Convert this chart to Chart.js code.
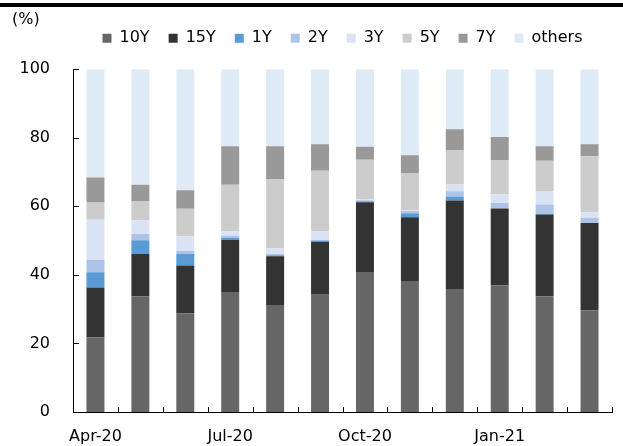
<!DOCTYPE html>
<html>
<head>
<meta charset="utf-8">
<script src="https://cdn.jsdelivr.net/npm/chart.js@4"></script>
<style>
  html, body { margin: 0; padding: 0; background: #fff; }
  #wrap { position: relative; width: 623px; height: 446px; }
  #topRule { position: absolute; left: 0; top: 3px; width: 623px; height: 4px; background: #000; }
  #chart { position: absolute; left: 0; top: 0; }
</style>
</head>
<body>
<div id="wrap">
  <canvas id="chart" width="623" height="446"></canvas>
  <div id="topRule"></div>
</div>
<script>
// monthly share of issuance by tenor, in %
const months = ['Apr-20', 'May-20', 'Jun-20', 'Jul-20', 'Aug-20', 'Sep-20',
                'Oct-20', 'Nov-20', 'Dec-20', 'Jan-21', 'Feb-21', 'Mar-21'];
const y10 = [21.8, 33.8, 28.8, 34.8, 31.2, 34.4, 40.6, 38.2, 35.9, 36.9, 33.8, 29.7];
const y15 = [14.5, 12.3, 13.9, 15.4, 14.2, 15.3, 20.6, 18.6, 25.8, 22.5, 23.8, 25.4];
const y1 = [4.5, 4.0, 3.5, 0.6, 0.3, 0.3, 0.3, 1.2, 1.2, 0, 0.2, 0];
const y2 = [3.6, 1.9, 0.8, 0.6, 0.4, 0.2, 0.3, 0.6, 1.5, 1.6, 2.7, 1.5];
const y3 = [11.7, 3.9, 4.3, 1.3, 1.7, 2.5, 0.2, 0.2, 2.0, 2.5, 4.0, 1.7];
const y5 = [5.0, 5.5, 8.0, 13.6, 20.2, 17.7, 11.6, 10.9, 9.9, 9.9, 8.8, 16.3];
const y7 = [7.3, 4.9, 5.4, 11.2, 9.5, 7.7, 3.8, 5.2, 6.2, 6.8, 4.2, 3.5];
const others = [31.6, 33.7, 35.3, 22.5, 22.5, 21.9, 22.6, 25.1, 17.5, 19.8, 22.5, 21.9];

Chart.defaults.font.family = "'DejaVu Sans', sans-serif";
Chart.defaults.font.size = 16;
Chart.defaults.color = '#000';

// small tick marks drawn on the inner side of both axes
const innerTicks = {
  id: 'innerTicks',
  afterDatasetsDraw(chart) {
    const { ctx, chartArea, scales: { x, y } } = chart;
    ctx.save();
    ctx.strokeStyle = '#000';
    ctx.lineWidth = 1;
    ctx.beginPath();
    y.ticks.forEach((t, i) => {
      const py = Math.round(y.getPixelForTick(i)) + 0.5;
      ctx.moveTo(chartArea.left, py);
      ctx.lineTo(chartArea.left + 6, py);
    });
    const step = (x.right - x.left) / months.length;
    for (let i = 0; i <= months.length; i++) {
      const px = Math.round(x.left + i * step) + 0.5;
      ctx.moveTo(px, chartArea.bottom);
      ctx.lineTo(px, chartArea.bottom - 5);
    }
    ctx.stroke();
    ctx.restore();
  }
};

// extra room under the legend
const legendGap = {
  id: 'legendGap',
  beforeInit(chart) {
    const fit = chart.legend.fit;
    chart.legend.fit = function () {
      fit.bind(chart.legend)();
      this.height += 13;
    };
  }
};

function series(label, data, color) {
  return { label: label, data: data, backgroundColor: color, borderWidth: 0 };
}

new Chart(document.getElementById('chart'), {
  type: 'bar',
  data: {
    labels: months,
    datasets: [
      series('10Y', y10, '#666666'),
      series('15Y', y15, '#333333'),
      series('1Y', y1, '#5b9bd5'),
      series('2Y', y2, '#adc4e7'),
      series('3Y', y3, '#dae3f3'),
      series('5Y', y5, '#cccccc'),
      series('7Y', y7, '#999999'),
      series('others', others, '#deebf7'),
    ],
  },
  options: {
    responsive: false,
    animation: false,
    layout: { padding: { left: 12, right: 11, top: 0, bottom: 0 } },
    datasets: { bar: { barPercentage: 0.4, categoryPercentage: 1 } },
    plugins: {
      title: {
        display: true,
        text: '(%)',
        align: 'start',
        padding: { top: 10, bottom: -18 },
        font: { size: 16, weight: 'normal' },
      },
      legend: {
        position: 'top',
        fullSize: false,
        labels: { boxWidth: 9, boxHeight: 9, padding: 19 },
      },
      tooltip: { enabled: false },
    },
    scales: {
      x: {
        stacked: true,
        grid: { display: false, drawTicks: false },
        border: { display: true, color: '#000', width: 1 },
        ticks: {
          autoSkip: false,
          maxRotation: 0,
          padding: 15,
          callback: function (value, index) {
            return index % 3 === 0 ? months[index] : '';
          },
        },
        afterFit(scale) { scale.height = 34; },
      },
      y: {
        stacked: true,
        min: 0,
        max: 100,
        grid: { display: false, drawTicks: false },
        border: { display: true, color: '#000', width: 1 },
        ticks: { stepSize: 20, padding: 23 },
        afterFit(scale) { scale.width = 61; },
      },
    },
  },
  plugins: [innerTicks, legendGap],
});
</script>
</body>
</html>
